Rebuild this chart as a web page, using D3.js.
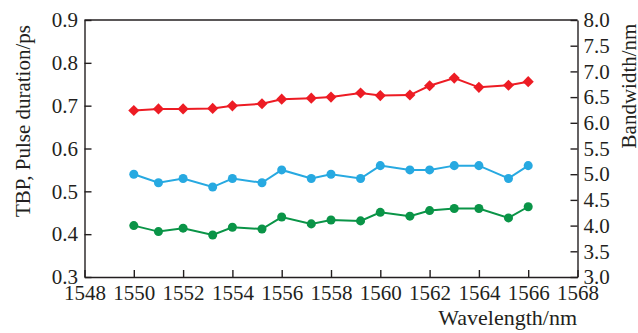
<!DOCTYPE html>
<html>
<head>
<meta charset="utf-8">
<style>
body { margin: 0; background: #fff; }
text { font-family: "Liberation Serif", "Times New Roman", serif; fill: #231f20; }
</style>
</head>
<body>
<svg id="chart" width="638" height="333"></svg>
<script src="https://d3js.org/d3.v7.min.js"></script>
<script>
// wavelength / nm
var wavelength = [1550, 1551, 1552, 1553.2, 1554, 1555.2, 1556, 1557.2, 1558, 1559.2, 1560, 1561.2, 1562, 1563, 1564, 1565.2, 1566];
// bandwidth / nm (right axis)
var bandwidth = [6.24, 6.27, 6.27, 6.28, 6.33, 6.37, 6.46, 6.48, 6.50, 6.58, 6.53, 6.54, 6.72, 6.87, 6.69, 6.73, 6.80];
// pulse duration / ps (left axis)
var duration = [0.54, 0.52, 0.53, 0.51, 0.53, 0.52, 0.55, 0.53, 0.54, 0.53, 0.56, 0.55, 0.55, 0.56, 0.56, 0.53, 0.56];
// TBP (left axis)
var tbp = [0.420, 0.406, 0.414, 0.398, 0.416, 0.412, 0.440, 0.424, 0.433, 0.431, 0.451, 0.442, 0.455, 0.460, 0.460, 0.438, 0.464];

var xTicks = d3.range(1548, 1569, 2);
var leftTicks = [0.3, 0.4, 0.5, 0.6, 0.7, 0.8, 0.9];
var rightTicks = [3.0, 3.5, 4.0, 4.5, 5.0, 5.5, 6.0, 6.5, 7.0, 7.5, 8.0];

var svg = d3.select('#chart');
var L = 84.5, R = 577.5, T = 20, B = 277;

var x = d3.scaleLinear().domain([1548, 1568]).range([L, R]);
var yL = d3.scaleLinear().domain([0.3, 0.9]).range([B, T]);
var yR = d3.scaleLinear().domain([3, 8]).range([B, T]);

function styleAxis(g) {
  g.attr('font-family', null).attr('font-size', null);
  g.selectAll('path, line').attr('stroke', '#231f20').attr('stroke-width', 1.4);
  g.selectAll('text').style('font-size', '21px').attr('fill', '#231f20');
}

svg.append('g').attr('transform', 'translate(0,' + B + ')')
  .call(d3.axisBottom(x).tickValues(xTicks).tickFormat(d3.format('d'))
    .tickSizeInner(-7).tickSizeOuter(0).tickPadding(8))
  .call(styleAxis);

svg.append('g').attr('transform', 'translate(' + L + ',0)')
  .call(d3.axisLeft(yL).tickValues(leftTicks).tickFormat(d3.format('.1f'))
    .tickSizeInner(-7).tickSizeOuter(0).tickPadding(6.5))
  .call(styleAxis);

svg.append('g').attr('transform', 'translate(' + R + ',0)')
  .call(d3.axisRight(yR).tickValues(rightTicks).tickFormat(d3.format('.1f'))
    .tickSizeInner(-7).tickSizeOuter(0).tickPadding(6))
  .call(styleAxis);

svg.append('line').attr('x1', L).attr('x2', R).attr('y1', T).attr('y2', T)
  .attr('stroke', '#231f20').attr('stroke-width', 1.4);

function series(vals, yScale, color, symbol, size) {
  var pts = wavelength.map(function(w, i) { return [x(w), yScale(vals[i])]; });
  svg.append('path').attr('d', d3.line()(pts))
    .attr('fill', 'none').attr('stroke', color).attr('stroke-width', 2);
  svg.append('g').selectAll('path').data(pts).enter().append('path')
    .attr('transform', function(d) { return 'translate(' + d[0] + ',' + d[1] + ')' + (symbol === d3.symbolSquare ? ' rotate(45)' : ''); })
    .attr('d', d3.symbol().type(symbol).size(size))
    .attr('fill', color);
}

series(bandwidth, yR, '#ed1c24', d3.symbolSquare, 62);
series(duration, yL, '#27a9e1', d3.symbolCircle, 64);
series(tbp, yL, '#0a9447', d3.symbolCircle, 64);

svg.append('text').attr('transform', 'translate(30,121) rotate(-90)')
  .attr('text-anchor', 'middle').style('font-size', '21px')
  .text('TBP, Pulse duration/ps');

svg.append('text').attr('transform', 'translate(636,86) rotate(-90)')
  .attr('text-anchor', 'middle').style('font-size', '21px')
  .text('Bandwidth/nm');

svg.append('text').attr('x', 577).attr('y', 325)
  .attr('text-anchor', 'end').style('font-size', '22px')
  .text('Wavelength/nm');
</script>
</body>
</html>
